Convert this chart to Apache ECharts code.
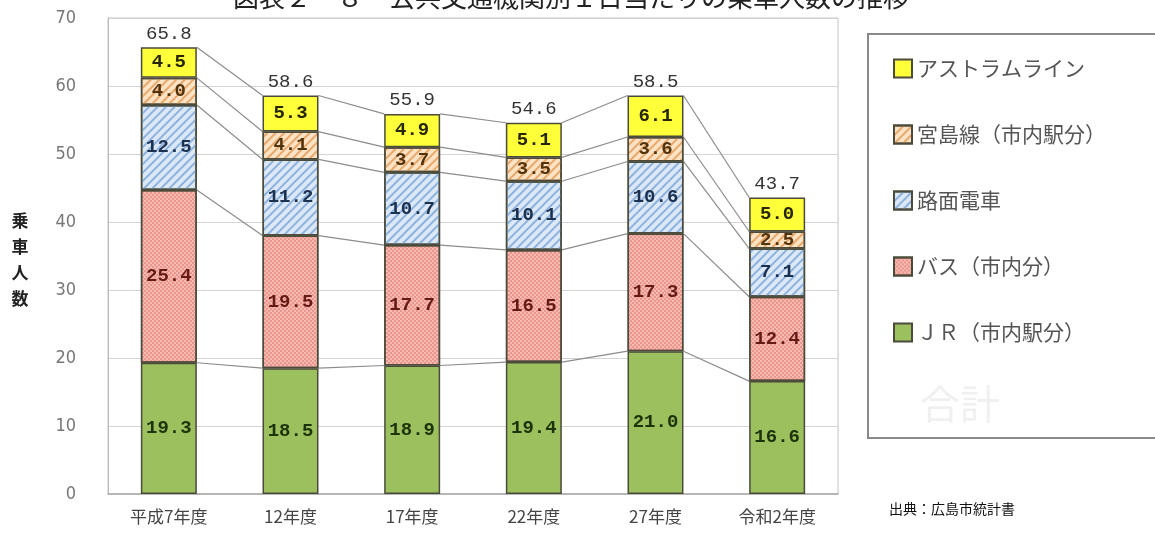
<!DOCTYPE html>
<html><head><meta charset="utf-8">
<script src="https://cdn.jsdelivr.net/npm/echarts@6/dist/echarts.min.js"></script>
<style>html,body{margin:0;padding:0;background:#fff}#c{width:1155px;height:533px}</style>
</head><body><div id="c"></div>
<script>
const categories = ['平成7年度','12年度','17年度','22年度','27年度','令和2年度'];
const jr       = [19.3, 18.5, 18.9, 19.4, 21.0, 16.6];
const bus      = [25.4, 19.5, 17.7, 16.5, 17.3, 12.4];
const tram     = [12.5, 11.2, 10.7, 10.1, 10.6, 7.1];
const miyajima = [4.0, 4.1, 3.7, 3.5, 3.6, 2.5];
const astram   = [4.5, 5.3, 4.9, 5.1, 6.1, 5.0];
const totals   = [65.8, 58.6, 55.9, 54.6, 58.5, 43.7];
const yTicks = [0,10,20,30,40,50,60,70];
const names = ['ＪＲ（市内駅分）','バス（市内分）','路面電車','宮島線（市内駅分）','アストラムライン'];
const seriesVals = [jr, bus, tram, miyajima, astram];

const BAR_RATIO = 0.46;
const numFont = '"Liberation Mono","DejaVu Sans Mono",monospace';
const jpFont = '"Noto Sans CJK JP","Noto Sans",sans-serif';

const cums = seriesVals.map((_, l) => categories.map((c, i) => {
  let s = 0; for (let k = 0; k <= l; k++) s += seriesVals[k][i]; return s;
}));

const styles = [
  {color:'#9DC05E', label:'#1d330a'},
  {color:'#F6BAB2', label:'#651a16', decal:{symbol:'rect', symbolSize:1, dashArrayX:[[2,2],[0,2,2,0]], dashArrayY:[2,0], color:'rgba(225,120,110,0.55)'}},
  {color:'#DDE8F6', label:'#1b3150', decal:{symbol:'rect', symbolSize:1, dashArrayX:[1,0], dashArrayY:[2,4], rotation:-Math.PI/4, color:'#8DB2DF'}},
  {color:'#FDE3C6', label:'#53330c', decal:{symbol:'rect', symbolSize:1, dashArrayX:[1,0], dashArrayY:[2,4], rotation:-Math.PI/4, color:'#E9A769'}},
  {color:'#FFFF3A', label:'#262600'}
];

const barSeries = names.map((n, l) => ({
  name: n, type: 'bar', stack: 'total', barWidth: (BAR_RATIO*100)+'%',
  data: seriesVals[l],
  itemStyle: Object.assign({color: styles[l].color, borderColor:'#4b4b3b', borderWidth:1.5},
     styles[l].decal ? {decal: styles[l].decal} : {}),
  label: {show:true, position:'inside', fontFamily:numFont, fontSize:19, fontWeight:'bold', color:styles[l].label,
     formatter: p => p.value.toFixed(1)},
  z: 3
}));

const connData = [];
for (let i = 0; i < categories.length - 1; i++) for (let l = 0; l < names.length; l++) connData.push([i, l]);

const option = {
  animation: false,
  title: {text:'図表２－８　公共交通機関別１日当たりの乗車人数の推移', left: 228, top: -21,
    textStyle:{fontFamily:jpFont, fontSize:26, fontWeight:'normal', color:'#222'}},
  grid: {left:108, right:317, top:18, bottom:39, show:true, borderColor:'#c4c4c4', borderWidth:1},
  xAxis: {type:'category', data:categories,
    axisLine:{show:true, lineStyle:{color:'#aaa', width:1.5}}, axisTick:{show:false},
    axisLabel:{fontFamily:jpFont, fontSize:17, color:'#444', margin:14}},
  yAxis: {type:'value', min:0, max:70, interval:10,
    axisLine:{show:true, lineStyle:{color:'#bbb'}}, axisTick:{show:false},
    splitLine:{lineStyle:{color:'#d4d4d4'}},
    axisLabel:{fontFamily:'"DejaVu Sans Condensed","Liberation Sans",sans-serif', fontSize:18, color:'#777', margin:32,
      formatter: v => yTicks.includes(v) ? String(v) : ''}},
  legend: {orient:'vertical', left:888, top:53, itemGap:45, itemWidth:18, itemHeight:18,
    data: names.slice().reverse(), icon:'rect',
    textStyle:{fontFamily:jpFont, fontSize:21, color:'#555'}},
  graphic: [
    {type:'rect', shape:{x:868, y:34, width:300, height:404}, style:{fill:'none', stroke:'#8a8a8a', lineWidth:2}, z:-1},
    {type:'text', left:920, top:384, style:{text:'合計', fontFamily:jpFont, fontSize:40, fill:'#f0f0f0'}},
    {type:'text', x:20, y:208, style:{text:'乗\n車\n人\n数', fontFamily:jpFont, fontSize:17, fontWeight:'bold', fill:'#222', lineHeight:26, align:'center'}},
    {type:'text', left:889, top:502, style:{text:'出典：広島市統計書', fontFamily:jpFont, fontSize:14, fill:'#111'}}
  ],
  series: [
    ...barSeries,
    {type:'custom', name:'合計', data: totals.map((t, i) => [i, t, cums[4][i]]), silent:true, z:5,
      renderItem: (params, api) => {
        const p = api.coord([api.value(0), api.value(2)]);
        return {type:'text', x:p[0], y:p[1]-4,
          style:{text: api.value(1).toFixed(1), fontFamily:numFont, fontSize:19, fill:'#333',
            align:'center', verticalAlign:'bottom'}};
      }},
    {type:'custom', name:'conn', data: connData, silent:true, z:2,
      renderItem: (params, api) => {
        const i = api.value(0), l = api.value(1);
        const p1 = api.coord([i, cums[l][i]]);
        const p2 = api.coord([i+1, cums[l][i+1]]);
        const bw = api.size([1,0])[0] * BAR_RATIO;
        return {type:'line', shape:{x1:p1[0]+bw/2, y1:p1[1], x2:p2[0]-bw/2, y2:p2[1]},
          style:{stroke:'#8c8c8c', lineWidth:1.2}};
      }}
  ]
};
const chart = echarts.init(document.getElementById('c'));
chart.setOption(option);
</script></body></html>
